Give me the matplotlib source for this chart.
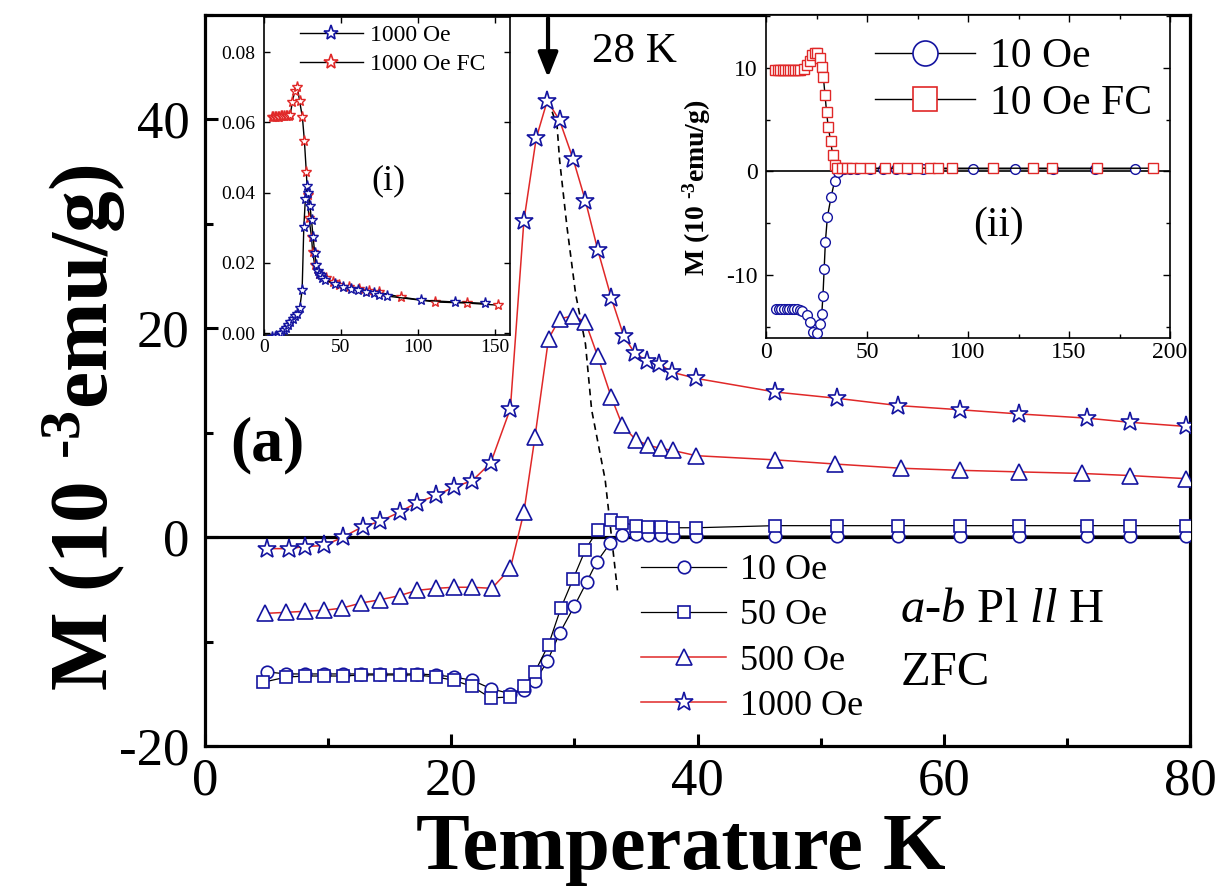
import numpy as np
import matplotlib
matplotlib.use('Agg')
import matplotlib.pyplot as plt
from matplotlib.lines import Line2D
from matplotlib.ticker import MultipleLocator

plt.rcParams['font.family'] = 'Liberation Serif'
plt.rcParams['mathtext.fontset'] = 'custom'
plt.rcParams['mathtext.rm'] = 'Liberation Serif'
plt.rcParams['mathtext.it'] = 'Liberation Serif:italic'
plt.rcParams['mathtext.bf'] = 'Liberation Serif:bold'
plt.rcParams['axes.unicode_minus'] = False

# ---- main panel, ZFC (T in K, M in 1e-3 emu/g)
t10 = [5.0, 6.6, 8.1, 9.7, 11.2, 12.7, 14.2, 15.8, 17.2, 18.8,
       20.2, 21.7, 23.2, 24.8, 25.9, 26.8, 27.8, 28.8, 30.0, 31.0,
       31.8, 32.9, 33.9, 35.0, 36.0, 37.0, 38.0, 39.9, 46.3, 51.3,
       56.3, 61.3, 66.1, 71.6, 75.1, 79.7]
m10 = [-12.9, -13.1, -13.1, -13.1, -13.1, -13.1, -13.1, -13.1, -13.1, -13.2,
       -13.4, -13.7, -14.5, -15.0, -14.6, -13.8, -11.9, -9.2, -6.6, -4.3,
       -2.4, -0.6, 0.2, 0.3, 0.2, 0.2, 0.1, 0.1, 0.1, 0.1,
       0.1, 0.1, 0.1, 0.1, 0.1, 0.1]

t50 = [4.7, 6.6, 8.1, 9.7, 11.2, 12.7, 14.2, 15.8, 17.2, 18.8,
       20.2, 21.7, 23.2, 24.8, 25.9, 26.8, 27.9, 28.9, 29.9, 30.9,
       31.9, 33.0, 33.9, 35.0, 36.0, 37.0, 38.0, 39.9, 46.3, 51.3,
       56.3, 61.3, 66.1, 71.6, 75.1, 79.7]
m50 = [-13.9, -13.4, -13.3, -13.3, -13.3, -13.2, -13.2, -13.2, -13.2, -13.4,
       -13.7, -14.3, -15.4, -15.3, -14.3, -12.9, -10.3, -6.8, -4.0, -1.2,
       0.7, 1.6, 1.4, 1.1, 1.0, 1.0, 0.9, 0.9, 1.1, 1.1,
       1.1, 1.1, 1.1, 1.1, 1.1, 1.1]

t500 = [4.9, 6.6, 8.1, 9.7, 11.1, 12.7, 14.2, 15.8, 17.2, 18.8,
        20.2, 21.7, 23.3, 24.8, 25.9, 26.8, 27.9, 28.8, 29.9, 30.9,
        31.9, 33.0, 33.9, 35.0, 36.0, 37.0, 38.0, 39.9, 46.3, 51.2,
        56.5, 61.3, 66.1, 71.2, 75.1, 79.7]
m500 = [-7.3, -7.2, -7.1, -7.0, -6.8, -6.3, -6.0, -5.6, -5.1, -4.9,
        -4.8, -4.8, -4.9, -3.0, 2.4, 9.6, 19.0, 20.9, 21.2, 20.6,
        17.3, 13.4, 10.7, 9.3, 8.8, 8.5, 8.3, 7.8, 7.4, 7.0,
        6.6, 6.4, 6.25, 6.1, 5.9, 5.6]

t1000 = [5.0, 6.85, 8.1, 9.7, 11.2, 12.8, 14.2, 15.8, 17.2, 18.8,
         20.2, 21.7, 23.2, 24.8, 25.9, 26.9, 27.8, 28.8, 29.9, 30.9,
         31.9, 33.0, 34.0, 34.9, 35.9, 36.9, 37.9, 39.9, 46.3, 51.3,
         56.3, 61.3, 66.1, 71.6, 75.1, 79.7]
m1000 = [-1.1, -1.1, -0.9, -0.8, 0.0, 1.0, 1.5, 2.4, 3.3, 4.0,
         4.8, 5.4, 7.1, 12.3, 30.3, 38.2, 41.8, 39.9, 36.2, 32.2,
         27.5, 22.9, 19.3, 17.6, 16.9, 16.6, 15.8, 15.2, 13.9, 13.3,
         12.6, 12.2, 11.8, 11.4, 11.0, 10.6]

# dashed guide through the peaks
t_guide = [27.9, 28.6, 28.8, 29.4, 30.1, 30.9, 31.4, 32.5, 33.5]
m_guide = [41.8, 39.3, 36.1, 29.7, 23.3, 18.5, 12.2, 5.5, -5.1]

# ---- inset (i): 1000 Oe ZFC / FC (emu/g)
t1000_tail = [102, 124, 144]
m1000_tail = [0.0094, 0.0089, 0.0085]
tfc1000 = [5, 6, 7, 8, 9, 10, 11, 12, 13, 14, 15, 16, 17,
           18.4, 20.0, 21.7, 23.2, 25.0, 26.3, 27.5, 28.3, 29.2, 30.9,
           31.6, 33.0, 36.0, 40.6, 44.7, 49.0, 55.0, 62.0, 68.0, 75.0,
           89.0, 111.0, 132.0, 152.0]
mfc1000 = [0.0615, 0.0615, 0.0615, 0.0616, 0.0616, 0.0616, 0.0617, 0.0617, 0.0617, 0.0618, 0.0618, 0.0619, 0.0620,
           0.0657, 0.0690, 0.0700, 0.0660, 0.0614, 0.0546, 0.0460, 0.0394, 0.0328, 0.0275,
           0.0232, 0.0194, 0.0170, 0.0157, 0.0146, 0.0137, 0.0131, 0.0126, 0.0121, 0.0116,
           0.0103, 0.0089, 0.0086, 0.0080]

# ---- inset (ii): 10 Oe ZFC / FC (1e-3 emu/g)
tz10 = [5, 6.3, 7.6, 8.9, 10.2, 11.5, 12.8, 14.1, 15.4, 16.7, 18.0,
        20.1, 22.0, 23.4, 25.0, 26.6, 27.6, 28.2, 28.8, 29.4, 30.4,
        32.2, 34.0, 35.8, 38.5, 41.5, 44.9, 51.5, 58.0, 64.6, 71.0,
        77.5, 102.6, 123.3, 142.2, 162.9, 182.7]
mz10 = [-13.3, -13.3, -13.3, -13.3, -13.3, -13.3, -13.3, -13.3, -13.3, -13.4, -13.5,
        -13.9, -14.6, -15.5, -15.6, -14.7, -13.8, -12.0, -9.4, -6.8, -4.4,
        -2.5, -0.9, -0.1, 0.2, 0.25, 0.25, 0.25, 0.25, 0.25, 0.25,
        0.25, 0.25, 0.25, 0.25, 0.25, 0.25]
tf10 = [4.5, 5.7, 7.0, 8.2, 9.5, 10.7, 12.0, 13.2, 14.5, 15.7, 16.8,
        18.8, 20.5, 21.8, 23.0, 24.2, 25.4, 26.7, 27.6, 28.4, 29.2,
        30.0, 30.8, 32.0, 33.0, 34.2, 35.0, 37.5, 40.0, 42.4, 46.5,
        51.5, 58.9, 65.5, 69.6, 74.6, 81.2, 85.3, 92.0, 112.6, 132.4,
        141.4, 163.7, 191.7]
mf10 = [9.8, 9.8, 9.8, 9.8, 9.8, 9.8, 9.8, 9.8, 9.8, 9.8, 9.8,
        9.9, 10.3, 10.7, 11.2, 11.4, 11.4, 10.9, 10.1, 9.1, 7.4,
        5.7, 4.3, 2.9, 1.6, 0.65, 0.35, 0.3, 0.3, 0.3, 0.3,
        0.3, 0.3, 0.3, 0.3, 0.3, 0.3, 0.3, 0.3, 0.3, 0.3,
        0.3, 0.3, 0.3]

blue = '#1414a0'
red = '#e02828'
W, H = 1222, 890
ylab = 'M (10 $^{\\mathbf{\u20103}}$emu/g)'


def box(l, t, r, b):
    return [l / W, 1 - b / H, (r - l) / W, (b - t) / H]


fig = plt.figure(figsize=(W / 100, H / 100), dpi=100)

# ================= main panel
ax = fig.add_axes(box(205, 15, 1190, 746))
ax.axhline(0, color='black', lw=2.3, zorder=1)
mk = dict(mfc='white', mec=blue, mew=1.2)
ax.plot(t10, m10, color='black', lw=0.9, marker='o', ms=9, label='10 Oe', zorder=3, **mk)
ax.plot(t50, m50, color='black', lw=0.9, marker='s', ms=9, label='50 Oe', zorder=3, **mk)
ax.plot(t500, m500, color=red, lw=1.1, marker='^', ms=12, label='500 Oe', zorder=3, **mk)
ax.plot(t1000, m1000, color=red, lw=1.1, marker='*', ms=14, label='1000 Oe', zorder=3, **mk)
ax.plot(t_guide, m_guide, color='black', lw=1.2, dashes=(4, 3), zorder=2)

ax.set_xlim(0, 80)
ax.set_ylim(-20, 50)
ax.xaxis.set_major_locator(MultipleLocator(20))
ax.xaxis.set_minor_locator(MultipleLocator(10))
ax.yaxis.set_major_locator(MultipleLocator(20))
ax.yaxis.set_minor_locator(MultipleLocator(10))
ax.set_yticks([-20, 0, 20, 40])
ax.tick_params(which='both', direction='in', width=2.2, labelsize=38)
ax.tick_params(which='major', length=9)
ax.tick_params(which='minor', length=6)
ax.tick_params(axis='x', pad=8)
ax.tick_params(axis='y', pad=11)
for s in ax.spines.values():
    s.set_linewidth(2.3)

ax.legend(loc='upper left', bbox_to_anchor=(641 / W, 1 - 554 / H), bbox_transform=fig.transFigure,
          frameon=False, fontsize=26, handlelength=2.36, handletextpad=0.37, labelspacing=0.33,
          borderpad=0, borderaxespad=0)

ax.annotate('', xy=(27.86, 44.0), xytext=(27.86, 49.7),
            arrowprops=dict(arrowstyle='-|>,head_width=0.2,head_length=0.5', color='black',
                            lw=3, shrinkA=0, shrinkB=0, mutation_scale=30))
ax.text(34.85, 46.5, '28 K', fontsize=31, ha='center', va='center')
ax.text(5.04, 8.8, '(a)', fontsize=46, fontweight='bold', ha='center', va='center')
ax.text(56.46, -8.1, r'$\mathit{a}$-$\mathit{b}$ Pl $\mathit{ll}$ H', fontsize=35, va='baseline')
ax.text(56.46, -14.2, 'ZFC', fontsize=35, va='baseline')

fig.text(108 / W, 1 - 428 / H, ylab, fontsize=60, fontweight='bold',
         rotation=90, rotation_mode='anchor', ha='center', va='baseline')
fig.text(681 / W, 1 - 869 / H, 'Temperature K', fontsize=58, fontweight='bold',
         ha='center', va='baseline')

# ================= inset (i)
ax1 = fig.add_axes(box(264, 17, 510, 335))
ax1.plot(np.concatenate([t1000, t1000_tail]), np.concatenate([np.array(m1000) / 1000, m1000_tail]),
         color='black', lw=1.0, marker='*', ms=8, mfc='white', mec=blue, mew=1.0, zorder=3)
ax1.plot(tfc1000, mfc1000, color='black', lw=1.0, marker='*', ms=8, mfc='white', mec=red, mew=1.0, zorder=2)
ax1.set_xlim(0, 160)
ax1.set_ylim(-0.0005, 0.09)
ax1.set_xticks([0, 50, 100, 150])
ax1.set_yticks([0.0, 0.02, 0.04, 0.06, 0.08])
ax1.yaxis.set_major_formatter(matplotlib.ticker.FormatStrFormatter('%.2f'))
ax1.tick_params(direction='in', length=4, width=1, labelsize=14, top=True, right=True)
ax1.tick_params(axis='x', pad=3)
ax1.tick_params(axis='y', pad=6)
for s in ax1.spines.values():
    s.set_linewidth(1.2)
h1 = [Line2D([], [], color='black', lw=1.0, marker='*', ms=11, mfc='white', mec=blue, mew=1.2),
      Line2D([], [], color='black', lw=1.0, marker='*', ms=11, mfc='white', mec=red, mew=1.2)]
ax1.legend(h1, ['1000 Oe', '1000 Oe FC'], loc='upper left', bbox_to_anchor=(0.146, 0.975),
           frameon=False, fontsize=17, handlelength=2.67, handletextpad=0.3, labelspacing=0.3,
           borderpad=0, borderaxespad=0)
ax1.text(81, 0.0435, '(i)', fontsize=26, ha='center', va='center')

# ================= inset (ii)
ax2 = fig.add_axes(box(766, 15, 1170, 338))
ax2.axhline(0, color='black', lw=1.2, zorder=1)
ax2.plot(tz10, mz10, color='black', lw=1.0, marker='o', ms=7, mfc='white', mec=blue, mew=1.0, zorder=3)
ax2.plot(tf10, mf10, color='black', lw=1.0, marker='s', ms=7, mfc='white', mec=red, mew=1.0, zorder=3)
ax2.set_xlim(0, 200)
ax2.set_ylim(-16.1, 15.1)
ax2.xaxis.set_major_locator(MultipleLocator(50))
ax2.xaxis.set_minor_locator(MultipleLocator(25))
ax2.yaxis.set_major_locator(MultipleLocator(10))
ax2.yaxis.set_minor_locator(MultipleLocator(5))
ax2.tick_params(which='both', direction='in', width=1, labelsize=17, top=True, right=True)
ax2.tick_params(which='major', length=5)
ax2.tick_params(which='minor', length=3)
ax2.tick_params(axis='x', pad=3)
ax2.tick_params(axis='y', pad=6)
for s in ax2.spines.values():
    s.set_linewidth(1.2)
h2 = [Line2D([], [], color='black', lw=1.0, marker='o', ms=18, mfc='white', mec=blue, mew=1.2),
      Line2D([], [], color='black', lw=1.0, marker='s', ms=17, mfc='white', mec=red, mew=1.2)]
ax2.legend(h2, ['10 Oe', '10 Oe FC'], loc='upper left', bbox_to_anchor=(0.27, 0.93),
           frameon=False, fontsize=30, handlelength=2.4, handletextpad=0.36, labelspacing=0.2,
           borderpad=0, borderaxespad=0)
ax2.text(115.3, -5.3, '(ii)', fontsize=30, ha='center', va='center')
fig.text(705 / W, 1 - 188 / H, ylab, fontsize=20, fontweight='bold',
         rotation=90, rotation_mode='anchor', ha='center', va='baseline')

fig.savefig('out.png', dpi=100)
